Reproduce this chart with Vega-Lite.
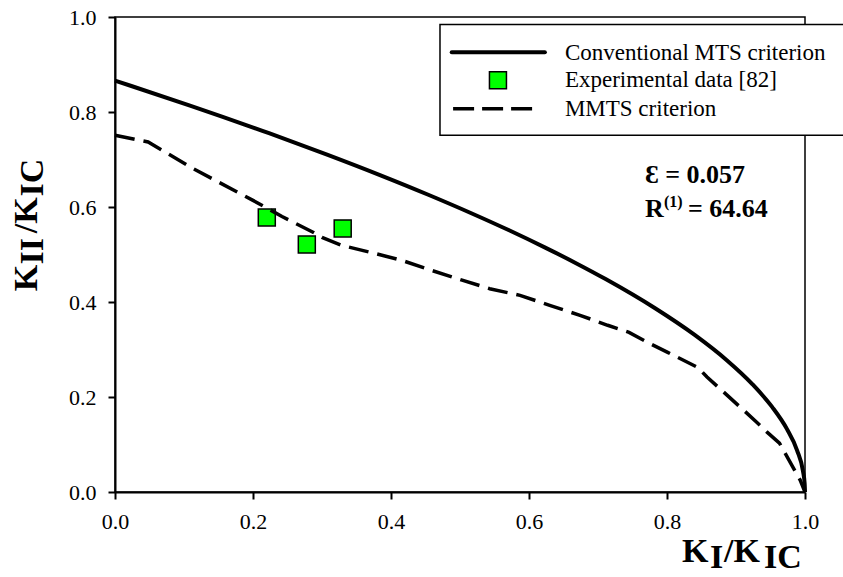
{
  "$schema": "https://vega.github.io/schema/vega-lite/v6.json",
  "width": 690,
  "height": 475,
  "autosize": {"type": "none"},
  "padding": {"left": 115, "top": 17, "right": 38, "bottom": 85},
  "background": "white",
  "config": {
    "view": {"stroke": "black", "strokeWidth": 1.5},
    "axis": {
      "labelFont": "Liberation Serif",
      "labelFontSize": 22,
      "labelColor": "black",
      "domainColor": "black",
      "domainWidth": 2,
      "tickColor": "black",
      "tickWidth": 2,
      "tickSize": 7,
      "grid": false,
      "labelFlush": false
    },
    "axisX": {"labelPadding": 12},
    "axisY": {"labelPadding": 12}
  },
  "datasets": {
    "mts": [
      {"x": 0.0, "y": 0.866}, {"x": 0.0237, "y": 0.8547}, {"x": 0.1087, "y": 0.8136},
      {"x": 0.2232, "y": 0.7554}, {"x": 0.3083, "y": 0.7098}, {"x": 0.3849, "y": 0.6667},
      {"x": 0.454, "y": 0.6258}, {"x": 0.5164, "y": 0.5869}, {"x": 0.5727, "y": 0.5499},
      {"x": 0.6235, "y": 0.5145}, {"x": 0.6695, "y": 0.4807}, {"x": 0.711, "y": 0.4483},
      {"x": 0.7822, "y": 0.3873}, {"x": 0.8401, "y": 0.3306}, {"x": 0.8866, "y": 0.2774},
      {"x": 0.9236, "y": 0.2271}, {"x": 0.9523, "y": 0.1791}, {"x": 0.9737, "y": 0.1328},
      {"x": 0.9885, "y": 0.0878}, {"x": 0.9971, "y": 0.0437}, {"x": 0.9995, "y": 0.0175},
      {"x": 1.0, "y": 0.0}
    ],
    "mmts": [
      {"x": 0.0, "y": 0.751}, {"x": 0.048, "y": 0.737}, {"x": 0.113, "y": 0.681},
      {"x": 0.2, "y": 0.614}, {"x": 0.242, "y": 0.58}, {"x": 0.287, "y": 0.547},
      {"x": 0.3, "y": 0.536}, {"x": 0.329, "y": 0.519}, {"x": 0.372, "y": 0.504},
      {"x": 0.415, "y": 0.488}, {"x": 0.458, "y": 0.467}, {"x": 0.503, "y": 0.446},
      {"x": 0.543, "y": 0.428}, {"x": 0.587, "y": 0.414}, {"x": 0.63, "y": 0.393},
      {"x": 0.674, "y": 0.372}, {"x": 0.714, "y": 0.351}, {"x": 0.745, "y": 0.336},
      {"x": 0.772, "y": 0.315}, {"x": 0.801, "y": 0.294}, {"x": 0.845, "y": 0.262},
      {"x": 0.858, "y": 0.242}, {"x": 0.887, "y": 0.204}, {"x": 0.93, "y": 0.147},
      {"x": 0.945, "y": 0.126}, {"x": 0.963, "y": 0.103}, {"x": 0.993, "y": 0.025},
      {"x": 1.0, "y": 0.0}
    ],
    "exp": [
      {"x": 0.22, "y": 0.578}, {"x": 0.278, "y": 0.521}, {"x": 0.33, "y": 0.555}
    ],
    "legendbox": [{"x": 0.471, "x2": 1.08, "y": 0.984, "y2": 0.751}],
    "legendsolid": [{"x": 0.488, "x2": 0.623, "y": 0.926}],
    "legenddash": [{"x": 0.49, "x2": 0.606, "y": 0.807}],
    "legendsquare": [{"x": 0.555, "y": 0.867}],
    "legendtext": [
      {"t": "Conventional MTS criterion", "x": 0.652, "y": 0.91},
      {"t": "Experimental data [82]", "x": 0.652, "y": 0.852},
      {"t": "MMTS criterion", "x": 0.652, "y": 0.791}
    ],
    "annot": [
      {"t": "Ɛ = 0.057", "x": 0.7681, "y": 0.65},
      {"t": "R", "x": 0.7681, "y": 0.578},
      {"t": "= 64.64", "x": 0.8304, "y": 0.578}
    ],
    "annotsup": [{"t": "(1)", "x": 0.7957, "y": 0.6}],
    "xtitle": [
      {"t": "K", "x": 0.8217, "y": -0.147},
      {"t": "I", "x": 0.8623, "y": -0.16},
      {"t": "/K", "x": 0.8826, "y": -0.147},
      {"t": "IC", "x": 0.9406, "y": -0.16}
    ],
    "ytitle": [
      {"t": "K", "x": -0.113, "y": 0.4225},
      {"t": "II", "x": -0.1043, "y": 0.479},
      {"t": "/K", "x": -0.113, "y": 0.5446},
      {"t": "IC", "x": -0.1043, "y": 0.622}
    ]
  },
  "layer": [
    {
      "data": {"name": "exp"},
      "mark": {"type": "point", "shape": "square", "filled": true, "fill": "#00ff00", "stroke": "black", "strokeWidth": 1.5, "size": 289, "opacity": 1},
      "encoding": {
        "x": {"field": "x", "type": "quantitative", "title": null,
              "scale": {"domain": [0, 1], "nice": false, "zero": false},
              "axis": {"values": [0, 0.2, 0.4, 0.6, 0.8, 1.0], "format": ".1f"}},
        "y": {"field": "y", "type": "quantitative", "title": null,
              "scale": {"domain": [0, 1], "nice": false, "zero": false},
              "axis": {"values": [0, 0.2, 0.4, 0.6, 0.8, 1.0], "format": ".1f"}}
      }
    },
    {
      "data": {"name": "mts"},
      "mark": {"type": "line", "color": "black", "strokeWidth": 4, "interpolate": "monotone"},
      "encoding": {
        "x": {"field": "x", "type": "quantitative", "title": null},
        "y": {"field": "y", "type": "quantitative", "title": null}
      }
    },
    {
      "data": {"name": "mmts"},
      "mark": {"type": "line", "color": "black", "strokeWidth": 3.5, "strokeDash": [20, 9], "strokeCap": "butt"},
      "encoding": {
        "x": {"field": "x", "type": "quantitative", "title": null},
        "y": {"field": "y", "type": "quantitative", "title": null}
      }
    },
    {
      "data": {"name": "legendbox"},
      "mark": {"type": "rect", "fill": "white", "stroke": "black", "strokeWidth": 1.5},
      "encoding": {
        "x": {"field": "x", "type": "quantitative", "title": null},
        "x2": {"field": "x2"},
        "y": {"field": "y", "type": "quantitative", "title": null},
        "y2": {"field": "y2"}
      }
    },
    {
      "data": {"name": "legendsolid"},
      "mark": {"type": "rule", "color": "black", "strokeWidth": 4, "strokeCap": "round"},
      "encoding": {
        "x": {"field": "x", "type": "quantitative", "title": null},
        "x2": {"field": "x2"},
        "y": {"field": "y", "type": "quantitative", "title": null}
      }
    },
    {
      "data": {"name": "legenddash"},
      "mark": {"type": "rule", "color": "black", "strokeWidth": 3.5, "strokeDash": [21, 8], "strokeCap": "butt"},
      "encoding": {
        "x": {"field": "x", "type": "quantitative", "title": null},
        "x2": {"field": "x2"},
        "y": {"field": "y", "type": "quantitative", "title": null}
      }
    },
    {
      "data": {"name": "legendsquare"},
      "mark": {"type": "point", "shape": "square", "filled": true, "fill": "#00ff00", "stroke": "black", "strokeWidth": 1.5, "size": 289, "opacity": 1},
      "encoding": {
        "x": {"field": "x", "type": "quantitative", "title": null},
        "y": {"field": "y", "type": "quantitative", "title": null}
      }
    },
    {
      "data": {"name": "legendtext"},
      "mark": {"type": "text", "font": "Liberation Serif", "fontSize": 23, "align": "left", "baseline": "alphabetic", "color": "black"},
      "encoding": {
        "x": {"field": "x", "type": "quantitative", "title": null},
        "y": {"field": "y", "type": "quantitative", "title": null},
        "text": {"field": "t"}
      }
    },
    {
      "data": {"name": "annot"},
      "mark": {"type": "text", "font": "Liberation Serif", "fontSize": 26, "fontWeight": "bold", "align": "left", "baseline": "alphabetic", "color": "black"},
      "encoding": {
        "x": {"field": "x", "type": "quantitative", "title": null},
        "y": {"field": "y", "type": "quantitative", "title": null},
        "text": {"field": "t"}
      }
    },
    {
      "data": {"name": "annotsup"},
      "mark": {"type": "text", "font": "Liberation Serif", "fontSize": 16, "fontWeight": "bold", "align": "left", "baseline": "alphabetic", "color": "black"},
      "encoding": {
        "x": {"field": "x", "type": "quantitative", "title": null},
        "y": {"field": "y", "type": "quantitative", "title": null},
        "text": {"field": "t"}
      }
    },
    {
      "data": {"name": "xtitle"},
      "mark": {"type": "text", "font": "Liberation Serif", "fontSize": 34, "fontWeight": "bold", "align": "left", "baseline": "alphabetic", "color": "black"},
      "encoding": {
        "x": {"field": "x", "type": "quantitative", "title": null},
        "y": {"field": "y", "type": "quantitative", "title": null},
        "text": {"field": "t"}
      }
    },
    {
      "data": {"name": "ytitle"},
      "mark": {"type": "text", "font": "Liberation Serif", "fontSize": 34, "fontWeight": "bold", "align": "left", "baseline": "alphabetic", "angle": 270, "color": "black"},
      "encoding": {
        "x": {"field": "x", "type": "quantitative", "title": null},
        "y": {"field": "y", "type": "quantitative", "title": null},
        "text": {"field": "t"}
      }
    }
  ]
}
